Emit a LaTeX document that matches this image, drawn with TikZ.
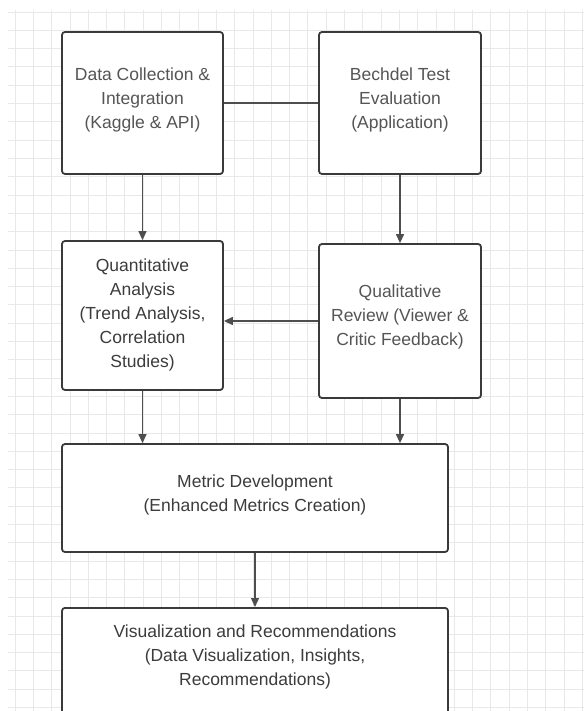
\documentclass[tikz,border=0pt]{standalone}
\usepackage{fontspec}
\setmainfont{Liberation Sans}
\usetikzlibrary{arrows.meta}
\definecolor{gridc}{HTML}{E8E8E8}
\definecolor{edgec}{HTML}{3A3A3A}
\definecolor{txtc}{HTML}{3C3C3C}
\definecolor{txtl}{HTML}{555555}
\begin{document}
\begin{tikzpicture}[x=1pt,y=-1pt,
  box/.style={draw=edgec, line width=1.8pt, rounded corners=3pt, fill=white, inner sep=0pt},
  txt/.style={align=center, text=txtc, font=\fontsize{17.5}{24}\selectfont},
  conn/.style={draw=edgec!90, line width=1.3pt},
  arr/.style={conn, -{Triangle[length=9pt,width=8pt]}}]
\useasboundingbox (0,0) rectangle (584,711);
\fill[white] (0,0) rectangle (584,711);
\begin{scope}
\clip (8,10) rectangle (584,711);
\foreach \i in {0,...,32} {\draw[gridc, line width=0.8pt] (15+18.3*\i,10) -- (15+18.3*\i,711);}
\foreach \j in {0,...,38} {\draw[gridc, line width=0.8pt] (8,12+18.3*\j) -- (584,12+18.3*\j);}
\end{scope}

\node[box, minimum width=161pt, minimum height=142pt] (dc) at (142.5,103) {};
\node[txt, text=txtl] (dct) at (142.5,100) {Data Collection \&\\Integration\\(Kaggle \& API)};
\node[box, minimum width=162pt, minimum height=142pt] (bt) at (400,103) {};
\node[txt, text=txtl] (btt) at (400,100) {Bechdel Test\\Evaluation\\(Application)};
\node[box, minimum width=161pt, minimum height=149pt] (qa) at (142.5,315.5) {};
\node[txt] (qat) at (142.5,315) {Quantitative\\Analysis\\(Trend Analysis,\\Correlation\\Studies)};
\node[box, minimum width=162pt, minimum height=154pt] (qr) at (400,321) {};
\node[txt, text=txtl] (qrt) at (400,317) {Qualitative\\Review (Viewer \&\\Critic Feedback)};
\node[box, minimum width=386pt, minimum height=108pt] (md) at (255,498) {};
\node[txt] (mdt) at (255,495) {Metric Development\\(Enhanced Metrics Creation)};
\node[box, minimum width=386pt, minimum height=120pt, anchor=north] (vr) at (255,607) {};
\node[txt] (vrt) at (255,657) {Visualization and Recommendations\\(Data Visualization, Insights,\\Recommendations)};

\draw[conn] (dc.east) -- (bt.west);
\draw[arr] (dc.south) -- (qa.north);
\draw[arr] (bt.south) -- (qr.north);
\draw[arr] (qr.west) -- (qr.west -| qa.east);
\draw[arr] (qa.south) -- (qa.south |- md.north);
\draw[arr] (qr.south) -- (qr.south |- md.north);
\draw[arr] (md.south) -- (vr.north);
\end{tikzpicture}
\end{document}
